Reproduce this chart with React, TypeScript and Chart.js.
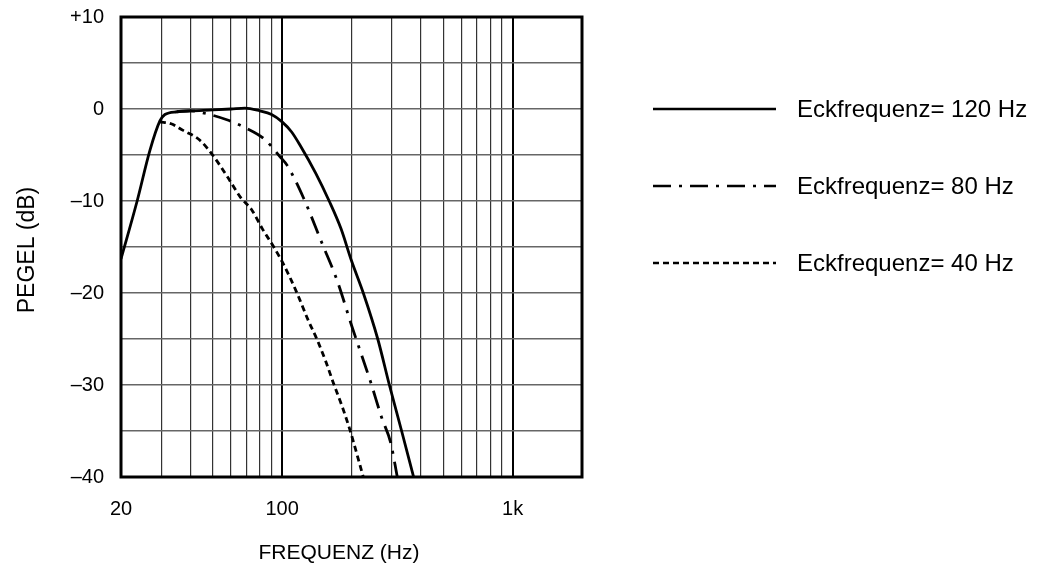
import React, { useEffect, useRef } from "react";
import { Chart, registerables } from "chart.js";

Chart.register(...registerables);

// ---- data ----
const seriesLabels = ["Eckfrequenz= 120 Hz", "Eckfrequenz= 80 Hz", "Eckfrequenz= 40 Hz"];

const freq120 = [20, 23.5, 26.7, 29.5, 31, 35, 40, 50, 60, 69, 80, 90, 100, 110, 120, 140, 160, 180, 200, 225, 260, 292, 330, 372];
const level120 = [-16.3, -10, -4.5, -1.3, -0.6, -0.3, -0.2, -0.1, 0, 0.1, -0.2, -0.6, -1.4, -2.5, -4, -7, -10, -13, -16.5, -20, -25, -30, -35, -40];

const freq80 = [35, 40, 45, 58, 70, 84, 98, 105, 124, 149, 173, 200, 243, 270, 296, 316];
const level80 = [-0.3, -0.2, -0.4, -1.2, -2.1, -3.3, -5.2, -6.1, -9.7, -14.6, -18.6, -23.5, -29.8, -33.5, -36.3, -40];

const freq40 = [29.5, 33, 37, 44, 50.6, 58, 66, 74, 82, 92, 102, 116, 130, 142, 155, 167, 182, 197, 211, 225];
const level40 = [-1.4, -1.6, -2.3, -3.4, -5.2, -7.4, -9.6, -11, -13, -15, -17, -20, -23, -25.1, -27.5, -29.8, -32.3, -34.9, -37.5, -40];

const xGridValues = [20, 30, 40, 50, 60, 70, 80, 90, 100, 200, 300, 400, 500, 600, 700, 800, 900, 1000, 2000];
const xTickLabels: Record<number, string> = { 20: "20", 100: "100", 1000: "1k" };
const yTickLabels: Record<number, string> = { 10: "+10", 0: "0", [-10]: "\u201310", [-20]: "\u201320", [-30]: "\u201330", [-40]: "\u201340" };

const xTitle = "FREQUENZ (Hz)";
const yTitle = "PEGEL (dB)";

const dashes: number[][] = [[], [18, 8, 3, 8], [6, 4]];

const FONT = "'Liberation Sans', Arial, Helvetica, sans-serif";

function toPoints(xs: number[], ys: number[]) {
  return xs.map((x, i) => ({ x, y: ys[i] }));
}

const framePlugin = {
  id: "frameAndExtras",
  afterDraw(chart: any) {
    const { ctx, chartArea } = chart;
    const { left, right, top, bottom } = chartArea;
    ctx.save();
    // frame
    ctx.strokeStyle = "#000";
    ctx.lineWidth = 3;
    ctx.strokeRect(left, top, right - left, bottom - top);

    // axis titles
    ctx.fillStyle = "#000";
    ctx.font = `21px ${FONT}`;
    ctx.textAlign = "center";
    ctx.textBaseline = "middle";
    ctx.fillText(xTitle, 339, 553);
    ctx.save();
    ctx.translate(28, 250);
    ctx.rotate(-Math.PI / 2);
    ctx.font = `23px ${FONT}`;
    ctx.fillText(yTitle, 0, 0);
    ctx.restore();

    // legend
    const rows = [109, 186, 263];
    rows.forEach((yy, i) => {
      ctx.save();
      ctx.strokeStyle = "#000";
      ctx.lineWidth = 2.6;
      ctx.setLineDash(dashes[i]);
      ctx.beginPath();
      ctx.moveTo(653, yy);
      ctx.lineTo(776, yy);
      ctx.stroke();
      ctx.restore();
      ctx.font = `24px ${FONT}`;
      ctx.textAlign = "left";
      ctx.textBaseline = "middle";
      ctx.fillText(seriesLabels[i], 797, yy + 1);
    });
    ctx.restore();
  },
};

export default function App() {
  const canvasRef = useRef<HTMLCanvasElement | null>(null);

  useEffect(() => {
    if (!canvasRef.current) return;
    const datasets = [
      toPoints(freq120, level120),
      toPoints(freq80, level80),
      toPoints(freq40, level40),
    ].map((data, i) => ({
      label: seriesLabels[i],
      data,
      borderColor: "#000",
      backgroundColor: "#000",
      borderWidth: 2.8,
      borderDash: dashes[i],
      pointRadius: 0,
      fill: false,
      cubicInterpolationMode: "monotone" as const,
    }));

    const chart = new Chart(canvasRef.current, {
      type: "line",
      data: { datasets },
      options: {
        animation: false,
        responsive: false,
        layout: { padding: { left: 0, top: 17, right: 456, bottom: 0 } },
        plugins: {
          legend: { display: false },
          tooltip: { enabled: false },
        },
        scales: {
          x: {
            type: "logarithmic",
            min: 20,
            max: 2000,
            afterBuildTicks(scale: any) {
              scale.ticks = xGridValues.map((v) => ({ value: v }));
            },
            afterFit(scale: any) {
              scale.height = 96;
              scale.paddingLeft = 0;
              scale.paddingRight = 0;
            },
            ticks: {
              autoSkip: false,
              maxRotation: 0,
              padding: 20,
              color: "#000",
              font: { size: 20, family: FONT },
              callback: (v: any) => xTickLabels[Number(v)] ?? "",
            },
            grid: {
              drawTicks: false,
              color: (c: any) => (c.tick && (c.tick.value === 100 || c.tick.value === 1000) ? "#000" : "#333"),
              lineWidth: (c: any) => (c.tick && (c.tick.value === 100 || c.tick.value === 1000) ? 2 : 1.2),
            },
            border: { display: false },
          },
          y: {
            type: "linear",
            min: -40,
            max: 10,
            afterFit(scale: any) {
              scale.width = 121;
              scale.paddingTop = 0;
              scale.paddingBottom = 0;
            },
            ticks: {
              stepSize: 5,
              padding: 17,
              color: "#000",
              font: { size: 20, family: FONT },
              callback: (v: any) => yTickLabels[Number(v)] ?? "",
            },
            grid: {
              drawTicks: false,
              color: "#666",
              lineWidth: 1.5,
            },
            border: { display: false },
          },
        },
      },
      plugins: [framePlugin],
    });
    return () => chart.destroy();
  }, []);

  return (
    <div style={{ position: "fixed", left: 0, top: 0, width: 1038, height: 573, background: "#fff" }}>
      <canvas ref={canvasRef} width={1038} height={573} style={{ width: 1038, height: 573 }} />
    </div>
  );
}
